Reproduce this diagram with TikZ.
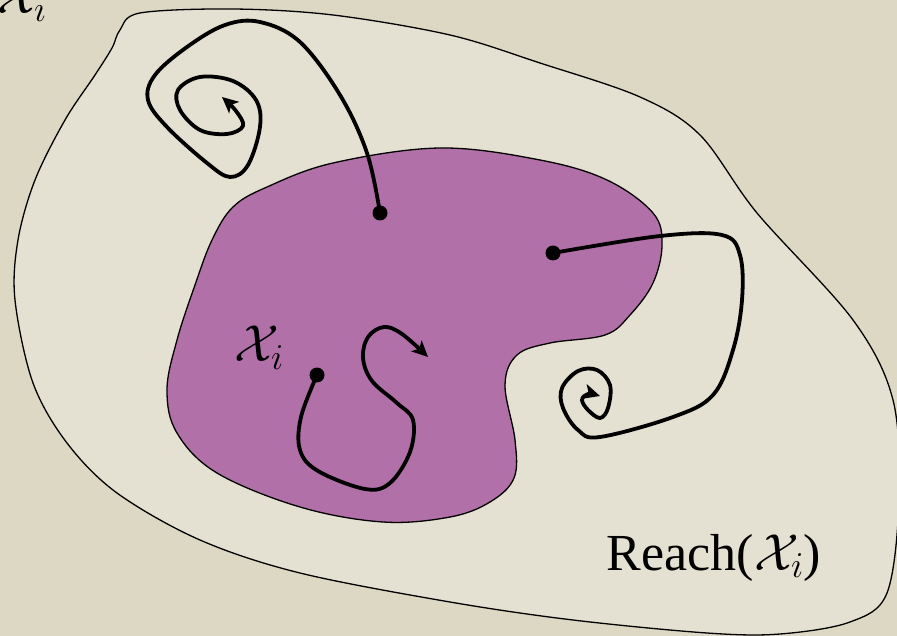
\RequirePackage{fix-cm}
\documentclass[tikz,border=0pt]{standalone}
\usepackage{fontspec}
\setmainfont{Liberation Serif}
\usetikzlibrary{arrows.meta}
\definecolor{bgcol}{HTML}{DDD8C3}
\definecolor{reachcol}{HTML}{E4E1D2}
\definecolor{setcol}{HTML}{B270A8}
\tikzset{
  region/.style={draw=black, line width=1.3pt},
  traj/.style={draw=black, line width=3.8pt, line cap=round, line join=round},
  trajarrow/.style={traj, -{Stealth[length=16pt,width=15pt,inset=4pt]}},
  dotmark/.style={fill=black},
  biglabel/.style={font=\fontsize{52}{62}\selectfont, inner sep=0pt}
}
\begin{document}
\begin{tikzpicture}[x=1pt,y=-1pt]
\useasboundingbox (0,0) rectangle (897,636);
\fill[bgcol] (0,0) rectangle (897,636);

% reachable set
\draw[region, fill=reachcol] plot[smooth cycle, tension=0.55] coordinates {
 (120,30) (140,13) (233,9) (333,15) (450,35) (540,63) (640,97) (700,135)
 (757,213) (853,320) (893,400) (899,500) (887,593) (850,622) (780,634)
 (707,633) (573,620) (450,602) (300,573) (200,540) (117,493) (67,443)
 (33,383) (15,300) (18,240) (35,180) (65,120) (95,75) (112,48)};

% initial set
\draw[region, fill=setcol] plot[smooth cycle, tension=0.6] coordinates {
 (233,207) (267,187) (333,163) (440,148) (540,160) (607,180) (653,213)
 (662,245) (653,283) (630,315) (605,335) (550,343) (517,355) (505,385)
 (515,440) (514,478) (490,502) (450,517) (383,522) (300,507) (217,473)
 (177,433) (167,390) (177,340) (195,285) (212,240)};

% labels
\node[biglabel] (xtop) at (22,0) {$\mathcal{X}_i$};
\node[biglabel] (xin) at (259,348) {$\mathcal{X}_i$};
\node[biglabel, anchor=base] (reach) at (714,570) {Reach($\mathcal{X}_i$)};

% start points
\coordinate (p1) at (380,213);
\coordinate (p2) at (317,375);
\coordinate (p3) at (553,253);
\fill[dotmark] (p1) circle (7.5);
\fill[dotmark] (p2) circle (7.5);
\fill[dotmark] (p3) circle (7.5);

% trajectory 1: spiral top-left
\draw[trajarrow] plot[smooth, tension=0.6] coordinates {
 (p1) (367,153) (340,95) (300,42) (260,22) (225,25) (187,47) (155,75)
 (148,100) (167,127) (207,163) (230,177) (248,165) (260,127) (256,100)
 (233,81) (200,77) (178,90) (180,110) (200,130) (227,134) (243,126)
 (236,111) (222,97)};

% trajectory 2: S-shape in the set
\draw[trajarrow] plot[smooth, tension=0.6] coordinates {
 (p2) (301,417) (300,450) (318,471) (365,489) (390,483) (410,452)
 (413,420) (397,403) (372,381) (363,358) (368,337) (384,327) (402,334)
 (428,357)};

% trajectory 3: right loop and spiral
\draw[trajarrow] plot[smooth, tension=0.6] coordinates {
 (p3) (660,236) (722,235) (740,255) (742,300) (733,350) (713,395)
 (673,417) (600,437) (578,430) (563,408) (562,388) (578,371) (597,370)
 (610,385) (608,408) (600,418) (588,410) (582,400) (588,394) (600,396)};
\end{tikzpicture}
\end{document}
